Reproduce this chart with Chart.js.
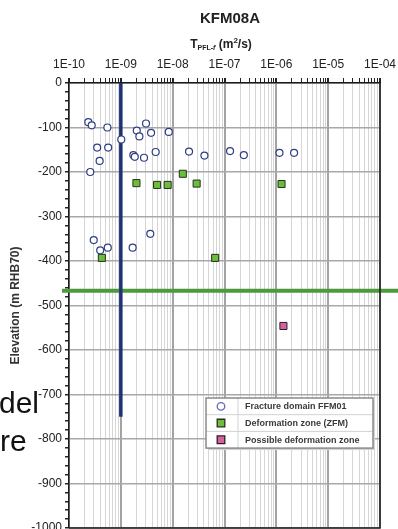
<!DOCTYPE html>
<html lang="en">
<head>
    <meta charset="UTF-8">
    <meta content="width=device-width, initial-scale=1.0" name="viewport">
    <title>KFM08A</title>
    <script src="https://cdn.jsdelivr.net/npm/chart.js"></script>
    <style>
        body { margin: 0; background: #fff; font-family: "Liberation Sans", Arial, sans-serif; }
        .wrap { position: relative; width: 398px; height: 529px; overflow: hidden; }
        .title { position: absolute; left: 130px; width: 200px; top: 9px; text-align: center; font-weight: bold; font-size: 15px; line-height: 18px; color: #222; }
        .subtitle { position: absolute; left: 121px; width: 200px; top: 36px; text-align: center; font-weight: bold; font-size: 12px; line-height: 16px; color: #222; }
        .subtitle sub { font-size: 7px; line-height: 0; vertical-align: -2px; }
        .subtitle sup { font-size: 8px; line-height: 0; vertical-align: 5px; }
        .overlay { position: absolute; left: -1px; font-size: 30px; line-height: 30px; color: #111; }
    </style>
</head>
<body>
<div class="wrap">
    <canvas id="chart"></canvas>
    <div class="title">KFM08A</div>
    <div class="subtitle">T<sub>PFL-<i>f</i></sub> (m<sup>2</sup>/s)</div>
    <div class="overlay" style="top: 388px;">del</div>
    <div class="overlay" style="top: 426px; left: 0;">re</div>
</div>

<script>
    // transmissivity (m2/s) and elevation (m RHB70) per group
    const ffm01T = [2.36e-10, 2.74e-10, 5.5e-10, 1.02e-9, 3.5e-10, 5.7e-10, 3.9e-10, 2.57e-10,
        2.03e-9, 2.28e-9, 3.06e-9, 3.83e-9, 8.4e-9, 1.74e-9, 1.86e-9, 2.8e-9, 4.7e-9,
        2.07e-8, 4.1e-8, 1.28e-7, 2.36e-7, 1.15e-6, 2.2e-6,
        3.0e-10, 4.0e-10, 5.6e-10, 1.69e-9, 3.7e-9];
    const ffm01Elev = [-88, -95, -100, -127, -145, -145, -175, -200,
        -107, -120, -91, -112, -110, -162, -166, -168, -155,
        -154, -163, -153, -162, -157, -157,
        -353, -376, -370, -370, -339];

    const zfmT = [2.0e-9, 5.0e-9, 8.0e-9, 1.57e-8, 2.9e-8, 1.26e-6, 4.3e-10, 6.6e-8];
    const zfmElev = [-225, -229, -229, -204, -226, -227, -393, -393];

    const possibleT = [1.37e-6];
    const possibleElev = [-546];

    // detection limit line and level line
    const limitT = [1e-9, 1e-9];
    const limitElev = [0, -750];
    const levelElev = -467;

    const xTickValues = [1e-10, 1e-9, 1e-8, 1e-7, 1e-6, 1e-5, 1e-4];
    const xTickLabels = ['1E-10', '1E-09', '1E-08', '1E-07', '1E-06', '1E-05', '1E-04'];
    const legendLabels = ['Fracture domain FFM01', 'Deformation zone (ZFM)', 'Possible deformation zone'];

    function toPoints(xs, ys) {
        return xs.map((x, i) => ({ x: x, y: ys[i] }));
    }

    const levelLine = {
        id: 'levelLine',
        beforeDatasetsDraw(chart) {
            const ctx = chart.ctx;
            const y = chart.scales.y.getPixelForValue(levelElev);
            ctx.save();
            ctx.strokeStyle = '#4b9a3e';
            ctx.lineWidth = 4;
            ctx.beginPath();
            ctx.moveTo(62, y);
            ctx.lineTo(chart.width, y);
            ctx.stroke();
            ctx.restore();
        }
    };

    const frame = {
        id: 'frame',
        afterDatasetsDraw(chart) {
            const a = chart.chartArea;
            const ctx = chart.ctx;
            ctx.save();
            ctx.strokeStyle = '#1a1a1a';
            ctx.lineWidth = 1.5;
            ctx.beginPath();
            ctx.moveTo(a.right, a.top);
            ctx.lineTo(a.right, a.bottom);
            ctx.lineTo(a.left, a.bottom);
            ctx.stroke();
            ctx.restore();
        }
    };

    const tableLegend = {
        id: 'tableLegend',
        afterDraw(chart) {
            const ctx = chart.ctx;
            const left = 206, top = 398, w = 167, rowH = 16.7, markW = 32;
            const h = rowH * legendLabels.length;
            ctx.save();
            ctx.fillStyle = '#d4d4d4';
            ctx.fillRect(left + 2, top + 2, w, h);
            ctx.fillStyle = '#fff';
            ctx.fillRect(left, top, w, h);
            ctx.strokeStyle = '#d2d2d2';
            ctx.lineWidth = 1;
            ctx.beginPath();
            for (let i = 1; i < legendLabels.length; i++) {
                ctx.moveTo(left, top + i * rowH);
                ctx.lineTo(left + w, top + i * rowH);
            }
            ctx.moveTo(left + markW, top);
            ctx.lineTo(left + markW, top + h);
            ctx.stroke();
            ctx.strokeStyle = '#8a8a8a';
            ctx.lineWidth = 1.5;
            ctx.strokeRect(left, top, w, h);

            ctx.font = 'bold 9px "Liberation Sans", Arial, sans-serif';
            ctx.textBaseline = 'middle';
            ctx.textAlign = 'left';
            legendLabels.forEach((label, i) => {
                const ds = chart.data.datasets[i];
                const cx = left + 15, cy = top + rowH * (i + 0.5);
                ctx.fillStyle = ds.backgroundColor;
                ctx.strokeStyle = ds.legendBorder || ds.borderColor;
                ctx.lineWidth = 1.3;
                ctx.beginPath();
                if (ds.pointStyle === 'circle') {
                    ctx.arc(cx, cy, 3.8, 0, Math.PI * 2);
                } else {
                    ctx.rect(cx - 3.8, cy - 3.8, 7.6, 7.6);
                }
                ctx.fill();
                ctx.stroke();
                ctx.fillStyle = '#3a3a3a';
                ctx.fillText(label, left + markW + 7, cy + 0.5);
            });
            ctx.restore();
        }
    };

    new Chart(document.getElementById('chart'), {
        type: 'scatter',
        data: {
            datasets: [
                {
                    label: legendLabels[0],
                    data: toPoints(ffm01T, ffm01Elev),
                    pointStyle: 'circle',
                    pointRadius: 3.5,
                    backgroundColor: '#ffffff',
                    borderColor: '#2f3d85',
                    legendBorder: '#5b6bc0',
                    borderWidth: 1.2
                },
                {
                    label: legendLabels[1],
                    data: toPoints(zfmT, zfmElev),
                    pointStyle: 'rect',
                    pointRadius: 5,
                    backgroundColor: '#6cbd3b',
                    borderColor: '#26301f',
                    borderWidth: 1
                },
                {
                    label: legendLabels[2],
                    data: toPoints(possibleT, possibleElev),
                    pointStyle: 'rect',
                    pointRadius: 5,
                    backgroundColor: '#d8609f',
                    borderColor: '#2a1f2a',
                    borderWidth: 1
                },
                {
                    label: 'limit',
                    data: toPoints(limitT, limitElev),
                    showLine: true,
                    pointRadius: 0,
                    borderColor: '#1f3177',
                    borderWidth: 3.5
                }
            ]
        },
        options: {
            responsive: true,
            maintainAspectRatio: false,
            animation: false,
            devicePixelRatio: 1,
            layout: { autoPadding: false, padding: { left: 0, right: 18, top: 0, bottom: 1 } },
            plugins: {
                legend: { display: false },
                tooltip: { enabled: false }
            },
            scales: {
                x: {
                    type: 'logarithmic',
                    position: 'top',
                    min: 1e-10,
                    max: 1e-4,
                    afterBuildTicks: scale => {
                        const ticks = [];
                        xTickValues.forEach((v, i) => {
                            ticks.push({ value: v });
                            if (i < xTickValues.length - 1) {
                                for (let m = 2; m <= 9; m++) ticks.push({ value: m * v });
                            }
                        });
                        scale.ticks = ticks;
                    },
                    afterFit: scale => {
                        scale.height = 83;
                        scale.paddingLeft = 0;
                        scale.paddingRight = 0;
                    },
                    ticks: {
                        autoSkip: false,
                        maxRotation: 0,
                        minRotation: 0,
                        padding: 6,
                        color: '#222',
                        font: { size: 12, family: '"Liberation Sans", Arial, sans-serif' },
                        callback: value => {
                            const i = xTickValues.indexOf(value);
                            return i >= 0 ? xTickLabels[i] : '';
                        }
                    },
                    grid: {
                        color: ctx => xTickValues.includes(ctx.tick.value) ? '#a3a3a3' : '#d6d6d6',
                        lineWidth: ctx => xTickValues.includes(ctx.tick.value) ? 2 : 1,
                        tickColor: '#222',
                        tickLength: 5
                    },
                    border: { color: '#1a1a1a', width: 1.5 }
                },
                y: {
                    type: 'linear',
                    min: -1000,
                    max: 0,
                    afterFit: scale => {
                        scale.width = 69;
                        scale.paddingTop = 0;
                        scale.paddingBottom = 0;
                    },
                    ticks: {
                        stepSize: 20,
                        autoSkip: false,
                        padding: 3,
                        color: '#222',
                        font: { size: 12, family: '"Liberation Sans", Arial, sans-serif' },
                        callback: value => value % 100 === 0 ? String(value) : ''
                    },
                    grid: {
                        color: ctx => ctx.tick.value % 100 === 0 ? '#a8a8a8' : 'rgba(0,0,0,0)',
                        lineWidth: 1.5,
                        tickColor: '#222',
                        tickLength: 4
                    },
                    border: { color: '#1a1a1a', width: 1.5 },
                    title: {
                        display: true,
                        text: 'Elevation (m RHB70)',
                        color: '#333',
                        padding: { top: 8, bottom: 0 },
                        font: { size: 12, weight: 'bold', family: '"Liberation Sans", Arial, sans-serif' }
                    }
                }
            }
        },
        plugins: [levelLine, frame, tableLegend]
    });
</script>
</body>
</html>
